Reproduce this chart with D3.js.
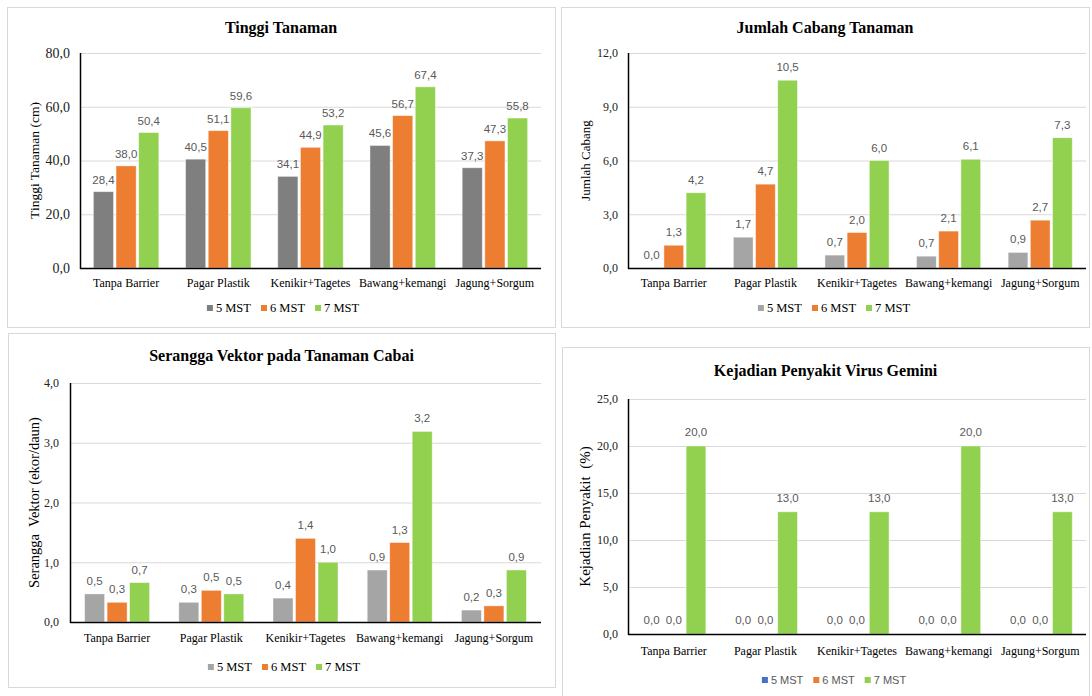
<!DOCTYPE html>
<html>
<head>
<meta charset="utf-8">
<script src="https://cdn.jsdelivr.net/npm/d3@7"></script>
<style>
  html, body { margin: 0; padding: 0; background: #fff; }
  svg { display: block; }
</style>
</head>
<body>
<svg id="chart" width="1092" height="696"></svg>
<script>
// ---------- DATA ----------
const categories = ["Tanpa Barrier", "Pagar Plastik", "Kenikir+Tagetes", "Bawang+kemangi", "Jagung+Sorgum"];
const seriesNames = ["5 MST", "6 MST", "7 MST"];

// Tinggi Tanaman (cm)
const tinggi5 = [28.4, 40.5, 34.1, 45.6, 37.3];
const tinggi6 = [38.0, 51.1, 44.9, 56.7, 47.3];
const tinggi7 = [50.4, 59.6, 53.2, 67.4, 55.8];
const tinggiTicks = [0, 20, 40, 60, 80];

// Jumlah Cabang
const cabang5 = [0.0, 1.72, 0.72, 0.66, 0.87];
const cabang6 = [1.27, 4.68, 1.98, 2.06, 2.67];
const cabang7 = [4.2, 10.48, 6.0, 6.07, 7.27];
const cabangTicks = [0, 3, 6, 9, 12];

// Serangga Vektor (ekor/daun)
const vektor5 = [0.47, 0.33, 0.40, 0.87, 0.20];
const vektor6 = [0.33, 0.53, 1.40, 1.33, 0.27];
const vektor7 = [0.66, 0.47, 1.00, 3.19, 0.87];
const vektorTicks = [0, 1, 2, 3, 4];

// Kejadian Penyakit (%)
const virus5 = [0, 0, 0, 0, 0];
const virus6 = [0, 0, 0, 0, 0];
const virus7 = [20, 13, 13, 20, 13];
const virusTicks = [0, 5, 10, 15, 20, 25];

// ---------- DRAWING ----------
const svg = d3.select("#chart");
const SERIF = "'Liberation Serif', 'Times New Roman', serif";
const SANS = "'Liberation Sans', Arial, sans-serif";
const fmt = v => d3.format(".1f")(v).replace(".", ",");

function drawPanel(cfg) {
  const g = svg.append("g");
  // border
  g.append("rect")
    .attr("x", cfg.box[0] + 0.5).attr("y", cfg.box[1] + 0.5)
    .attr("width", cfg.box[2] - cfg.box[0]).attr("height", cfg.box[3] - cfg.box[1])
    .attr("fill", "#fff").attr("stroke", "#d9d9d9").attr("stroke-width", 1);

  // title
  g.append("text")
    .attr("x", (cfg.box[0] + cfg.box[2]) / 2).attr("y", cfg.titleY)
    .attr("text-anchor", "middle")
    .attr("font-family", SERIF).attr("font-weight", "bold").attr("font-size", 16)
    .attr("fill", "#000").text(cfg.title);

  const y = d3.scaleLinear().domain([0, cfg.max]).range([cfg.yBot, cfg.yTop]);
  const x0 = d3.scaleBand().domain(categories).range([cfg.xL, cfg.xR])
    .paddingInner(cfg.padG).paddingOuter(cfg.padG / 2);
  const x1 = d3.scaleBand().domain(seriesNames).range([0, x0.bandwidth()])
    .paddingInner(0.11).paddingOuter(0);

  // gridlines
  const yAxisGrid = d3.axisLeft(y).tickValues(cfg.ticks)
    .tickSize(-(cfg.xR - cfg.xL)).tickFormat("");
  const grid = g.append("g").attr("transform", `translate(${cfg.xL},0)`).call(yAxisGrid);
  grid.select(".domain").remove();
  grid.selectAll(".tick line").attr("stroke", "#d9d9d9").attr("stroke-width", 1);

  // y tick labels
  const yAxis = d3.axisLeft(y).tickValues(cfg.ticks).tickSize(0).tickPadding(cfg.xL - cfg.tickRight).tickFormat(fmt);
  const ya = g.append("g").attr("transform", `translate(${cfg.xL},0)`).call(yAxis);
  ya.select(".domain").remove();
  ya.selectAll(".tick text").attr("font-family", SERIF).attr("font-size", cfg.tickFont).attr("fill", "#222");

  // bars
  const series = cfg.series;
  categories.forEach((c, i) => {
    const grp = g.append("g").attr("transform", `translate(${x0(c)},0)`);
    seriesNames.forEach((s, j) => {
      const v = series[j][i];
      grp.append("rect")
        .attr("x", x1(s)).attr("width", x1.bandwidth())
        .attr("y", y(v)).attr("height", y(0) - y(v))
        .attr("fill", cfg.colors[j])
        .attr("stroke", "#fff").attr("stroke-opacity", 0.55).attr("stroke-width", 0.8);
      grp.append("text")
        .attr("x", x1(s) + x1.bandwidth() / 2).attr("y", y(v) - cfg.labelOff)
        .attr("text-anchor", "middle")
        .attr("font-family", SANS).attr("font-size", 11.5).attr("fill", "#595959")
        .text(fmt(v));
    });
  });

  // axis lines
  g.append("line").attr("x1", cfg.xL).attr("x2", cfg.xR).attr("y1", y(0) + 0.5).attr("y2", y(0) + 0.5)
    .attr("stroke", "#000").attr("stroke-width", 1.3);
  g.append("line").attr("x1", cfg.xL + 0.5).attr("x2", cfg.xL + 0.5).attr("y1", cfg.yTop).attr("y2", y(0) + 1)
    .attr("stroke", "#000").attr("stroke-width", 1.5);

  // x labels
  const xAxis = d3.axisBottom(x0).tickSize(0).tickPadding(0);
  const xa = g.append("g").attr("transform", `translate(0,${cfg.xLabelY})`).call(xAxis);
  xa.select(".domain").remove();
  xa.selectAll(".tick text").attr("font-family", SERIF).attr("font-size", 12).attr("fill", "#000")
    .attr("dy", 0);

  // y title
  g.append("text")
    .attr("transform", `translate(${cfg.yTitleX},${(cfg.yTop + cfg.yBot) / 2}) rotate(-90)`)
    .attr("text-anchor", "middle").attr("dominant-baseline", "central")
    .attr("font-family", SERIF).attr("font-size", cfg.yTitleFont).attr("fill", "#000")
    .style("white-space", "pre")
    .text(cfg.yTitle);

  // legend
  const lg = g.append("g");
  let cx = 0;
  seriesNames.forEach((s, j) => {
    lg.append("rect").attr("x", cx).attr("y", -7).attr("width", 6).attr("height", 6).attr("fill", cfg.colors[j]);
    const t = lg.append("text").attr("x", cx + 9).attr("y", 0)
      .attr("font-family", cfg.legendSans ? SANS : SERIF)
      .attr("font-size", cfg.legendSans ? 11 : 12.5)
      .attr("fill", cfg.legendSans ? "#595959" : "#000").text(s);
    cx += 9 + t.node().getComputedTextLength() + 10;
  });
  const lw = cx - 10;
  lg.attr("transform", `translate(${cfg.legendCX - lw / 2},${cfg.legendY})`);
}

const ORANGE = "#ed7d31", GREEN = "#92d050";

drawPanel({
  box: [7, 7, 555, 327], title: "Tinggi Tanaman", titleY: 33,
  xL: 80, xR: 541, yTop: 53, yBot: 268, max: 80, ticks: tinggiTicks,
  tickRight: 70, tickFont: 14, padG: 0.29, labelOff: 8,
  series: [tinggi5, tinggi6, tinggi7], colors: ["#7f7f7f", ORANGE, GREEN],
  xLabelY: 287, yTitle: "Tinggi Tanaman (cm)", yTitleX: 34, yTitleFont: 13.5,
  legendCX: 283, legendY: 312, legendSans: false
});

drawPanel({
  box: [561, 7, 1089, 327], title: "Jumlah Cabang Tanaman", titleY: 33,
  xL: 628, xR: 1086, yTop: 53, yBot: 268, max: 12, ticks: cabangTicks,
  tickRight: 618, tickFont: 12, padG: 0.3, labelOff: 9,
  series: [cabang5, cabang6, cabang7], colors: ["#a5a5a5", ORANGE, GREEN],
  xLabelY: 287, yTitle: "Jumlah Cabang", yTitleX: 585, yTitleFont: 13,
  legendCX: 834, legendY: 312, legendSans: false
});

drawPanel({
  box: [8, 333, 555, 687], title: "Serangga Vektor pada Tanaman Cabai", titleY: 361,
  xL: 70, xR: 541, yTop: 383, yBot: 622, max: 4, ticks: vektorTicks,
  tickRight: 59, tickFont: 12, padG: 0.31, labelOff: 9,
  series: [vektor5, vektor6, vektor7], colors: ["#a5a5a5", ORANGE, GREEN],
  xLabelY: 642, yTitle: "Serangga  Vektor (ekor/daun)", yTitleX: 34, yTitleFont: 14.5,
  legendCX: 284, legendY: 671, legendSans: false
});

drawPanel({
  box: [562, 347, 1089, 700], title: "Kejadian Penyakit Virus Gemini", titleY: 376,
  xL: 628, xR: 1086, yTop: 399, yBot: 634, max: 25, ticks: virusTicks,
  tickRight: 618, tickFont: 12, padG: 0.3, labelOff: 10,
  series: [virus5, virus6, virus7], colors: ["#4472c4", ORANGE, GREEN],
  xLabelY: 655, yTitle: "Kejadian Penyakit  (%)", yTitleX: 585, yTitleFont: 15,
  legendCX: 834, legendY: 684, legendSans: true
});
</script>
</body>
</html>
